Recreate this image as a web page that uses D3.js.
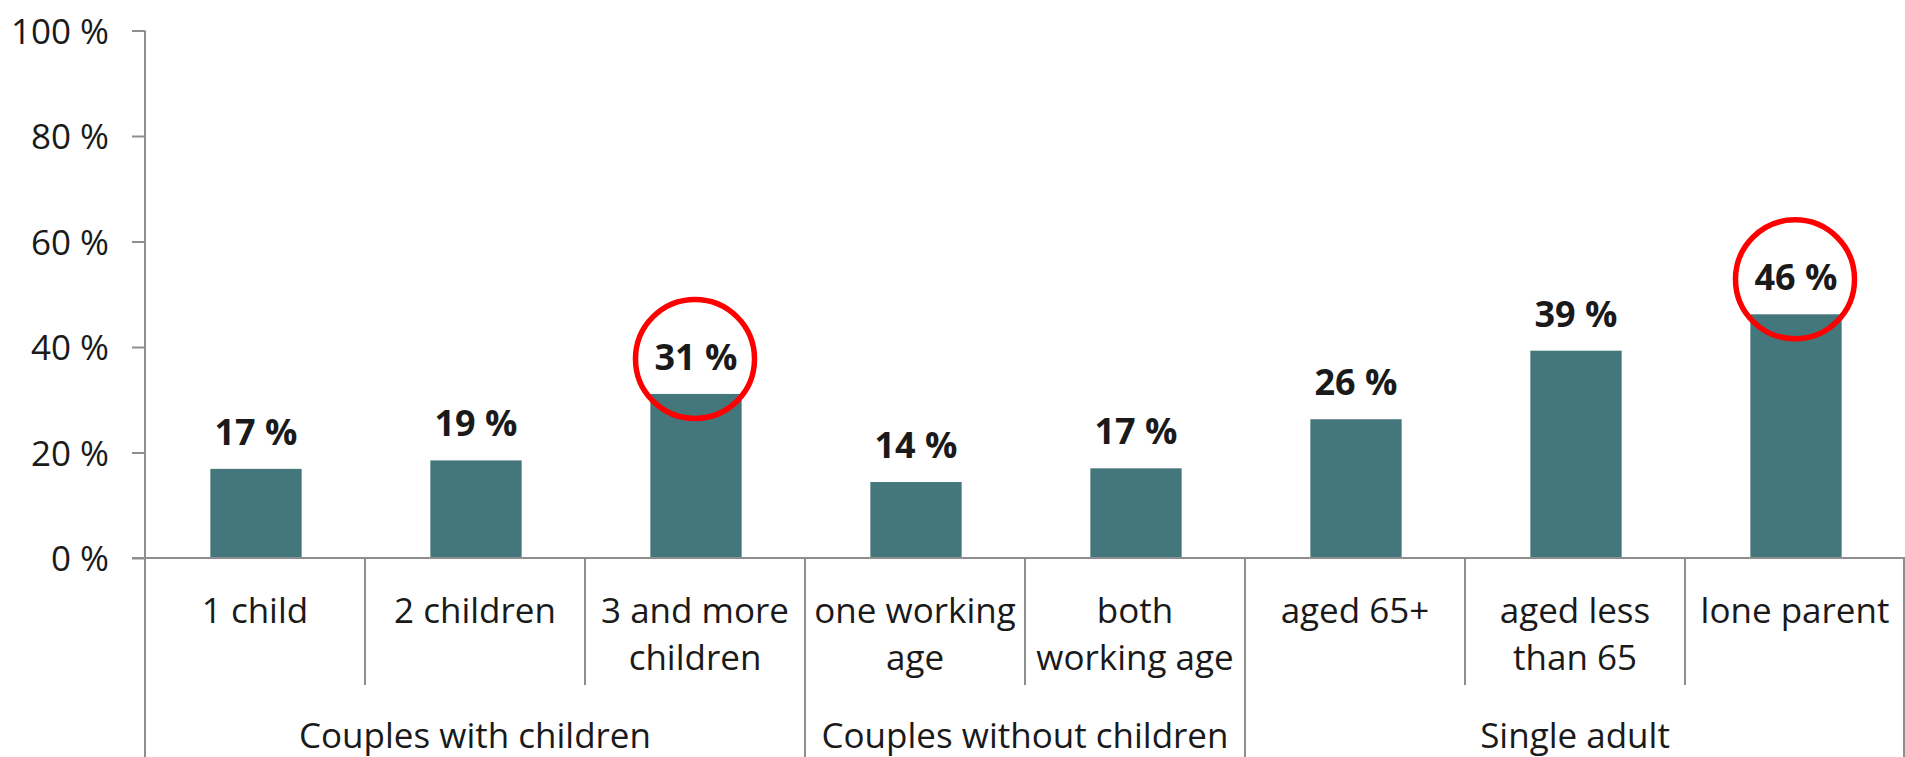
<!DOCTYPE html>
<html>
<head>
<meta charset="utf-8">
<script src="https://cdn.jsdelivr.net/npm/d3@7"></script>
<style>
  html, body { margin: 0; padding: 0; background: #fff; }
  svg { display: block; }
  text { font-family: "Open Sans", "Noto Sans", sans-serif; fill: #1a1a1a; }
</style>
</head>
<body>
<svg id="chart" width="1905" height="757"></svg>
<script>
// ---- data ----
const groups = ["Couples with children", "Couples without children", "Single adult"];
const categories = ["1 child", "2 children", "3 and more children", "one working age",
                    "both working age", "aged 65+", "aged less than 65", "lone parent"];
const categoryLines = [["1 child"], ["2 children"], ["3 and more", "children"], ["one working", "age"],
                       ["both", "working age"], ["aged 65+"], ["aged less", "than 65"], ["lone parent"]];
const categoryGroup = [0, 0, 0, 1, 1, 2, 2, 2];
const values = [16.9, 18.5, 31.1, 14.4, 17.0, 26.3, 39.3, 46.2];
const valueLabels = ["17 %", "19 %", "31 %", "14 %", "17 %", "26 %", "39 %", "46 %"];
const highlighted = ["3 and more children", "lone parent"];
const yTicks = [0, 20, 40, 60, 80, 100];
const yTickLabels = ["0 %", "20 %", "40 %", "60 %", "80 %", "100 %"];

// ---- layout ----
(function () {
const W = 1905, H = 757;
const mLeft = 145, mRight = 1905, mTop = 30.5, base = 558;
const svg = d3.select("#chart");
const axisColor = "#8e8e8e";

const x = d3.scaleBand().domain(categories).range([mLeft, mRight]).padding(0);
const y = d3.scaleLinear().domain([0, 100]).range([base, mTop]);
const barW = x.bandwidth() * 0.415;

// y axis
const yAxis = d3.axisLeft(y).tickValues(yTicks)
  .tickFormat((d, i) => yTickLabels[i]).tickSize(13).tickSizeOuter(0).tickPadding(23);
const gy = svg.append("g").attr("transform", `translate(${mLeft},0)`).call(yAxis);
gy.select(".domain").remove();
gy.selectAll(".tick line").attr("stroke", axisColor).attr("stroke-width", 2);
gy.selectAll(".tick text").attr("font-size", 35).attr("fill", "#1a1a1a")
  .attr("font-family", "'Open Sans', 'Noto Sans', sans-serif").attr("dy", "0.36em");

// vertical axis line (extends down through the category area)
svg.append("line").attr("x1", mLeft).attr("x2", mLeft).attr("y1", y(100)).attr("y2", H)
  .attr("stroke", axisColor).attr("stroke-width", 2);

// bars
svg.selectAll("rect.bar").data(values).join("rect").attr("class", "bar")
  .attr("x", (d, i) => x(categories[i]) + x.bandwidth() / 2 - barW / 2 + 1)
  .attr("width", barW)
  .attr("y", d => y(d))
  .attr("height", d => y(0) - y(d))
  .attr("fill", "#44777b");

// baseline
svg.append("line").attr("x1", mLeft - 13).attr("x2", mRight).attr("y1", base).attr("y2", base)
  .attr("stroke", axisColor).attr("stroke-width", 2);

// dividers
for (let k = 1; k <= categories.length; k++) {
  const xe = k === categories.length ? mRight - 1 : x(categories[k]);
  const isGroupEdge = k === categories.length || categoryGroup[k] !== categoryGroup[k - 1];
  svg.append("line").attr("x1", xe).attr("x2", xe).attr("y1", base)
    .attr("y2", isGroupEdge ? H : 685)
    .attr("stroke", axisColor).attr("stroke-width", 2);
}

// value labels
svg.selectAll("text.val").data(values).join("text").attr("class", "val")
  .attr("x", (d, i) => x(categories[i]) + x.bandwidth() / 2 + 1)
  .attr("y", d => y(d) - 24)
  .attr("text-anchor", "middle").attr("font-size", 36).attr("font-weight", 700)
  .attr("fill", "#111")
  .text((d, i) => valueLabels[i]);

// highlight circles
highlighted.forEach(c => {
  const i = categories.indexOf(c);
  svg.append("circle")
    .attr("cx", x(c) + x.bandwidth() / 2)
    .attr("cy", y(values[i]) - 24 - 11)
    .attr("r", 59.5)
    .attr("fill", "none").attr("stroke", "#ff0000").attr("stroke-width", 5.5);
});

// category labels
categoryLines.forEach((lines, i) => {
  const t = svg.append("text").attr("text-anchor", "middle").attr("font-size", 35)
    .attr("x", x(categories[i]) + x.bandwidth() / 2);
  lines.forEach((ln, j) => {
    t.append("tspan").attr("x", x(categories[i]) + x.bandwidth() / 2)
      .attr("y", 622.5 + j * 47.5).text(ln);
  });
});

// group labels
groups.forEach((g, gi) => {
  const idx = categories.filter((c, i) => categoryGroup[i] === gi);
  const x0 = x(idx[0]), x1 = x(idx[idx.length - 1]) + x.bandwidth();
  svg.append("text").attr("text-anchor", "middle").attr("font-size", 35)
    .attr("x", (x0 + x1) / 2).attr("y", 748).text(g);
});
})();
</script>
</body>
</html>
